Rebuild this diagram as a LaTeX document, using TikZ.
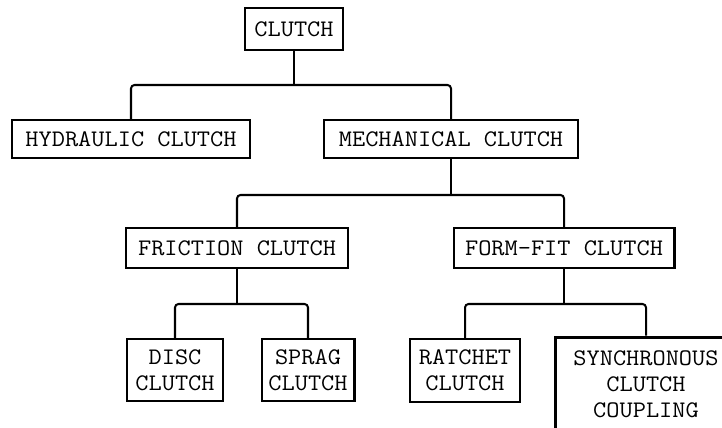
\documentclass[tikz,border=0pt]{standalone}
\usepackage{fontspec}
\setmonofont{Latin Modern Mono}[FakeStretch=1.08]
\begin{document}
\begin{tikzpicture}[x=0.02cm,y=-0.02cm,
  box/.style={draw,line width=1.15pt,inner sep=0pt,align=center,
    font=\ttfamily\fontsize{13.5}{14.8}\selectfont},
  link/.style={line width=1.15pt,rounded corners=2pt}]
\useasboundingbox (0,0) rectangle (722,428);
% top level
\node[box,minimum width=1.96cm,minimum height=0.84cm] (clutch) at (294,29) {CLUTCH};
\node[box,minimum width=4.76cm,minimum height=0.76cm] (hydraulic) at (131,139) {HYDRAULIC CLUTCH};
\node[box,minimum width=5.10cm,minimum height=0.76cm] (mechanical) at (451,139) {MECHANICAL CLUTCH};
% second level
\node[box,minimum width=4.44cm,minimum height=0.80cm] (friction) at (237,248) {FRICTION CLUTCH};
\node[box,minimum width=4.42cm,minimum height=0.80cm] (formfit) at (564,248) {FORM-FIT CLUTCH};
% leaves
\node[box,minimum width=1.92cm,minimum height=1.24cm] (disc) at (175,370) {DISC\\CLUTCH};
\node[box,minimum width=1.86cm,minimum height=1.24cm] (sprag) at (308,370) {SPRAG\\CLUTCH};
\node[box,minimum width=2.20cm,minimum height=1.26cm] (ratchet) at (465,370.5) {RATCHET\\CLUTCH};
\node[box,line width=1.7pt,minimum width=3.64cm,minimum height=1.90cm] (synchronous) at (646,384.5) {SYNCHRONOUS\\CLUTCH\\COUPLING};
% connectors
\draw[link] (clutch.south) -- ++(0,34) coordinate (j1);
\draw[link] (hydraulic.north) |- (j1) -| (mechanical.north);
\draw[link] (mechanical.south) -- ++(0,36) coordinate (j2);
\draw[link] (friction.north) |- (j2) -| (formfit.north);
\draw[link] (friction.south) -- ++(0,35) coordinate (j3);
\draw[link] (disc.north) |- (j3) -| (sprag.north);
\draw[link] (formfit.south) -- ++(0,35) coordinate (j4);
\draw[link] (ratchet.north) |- (j4) -| (synchronous.north);
\end{tikzpicture}
\end{document}
